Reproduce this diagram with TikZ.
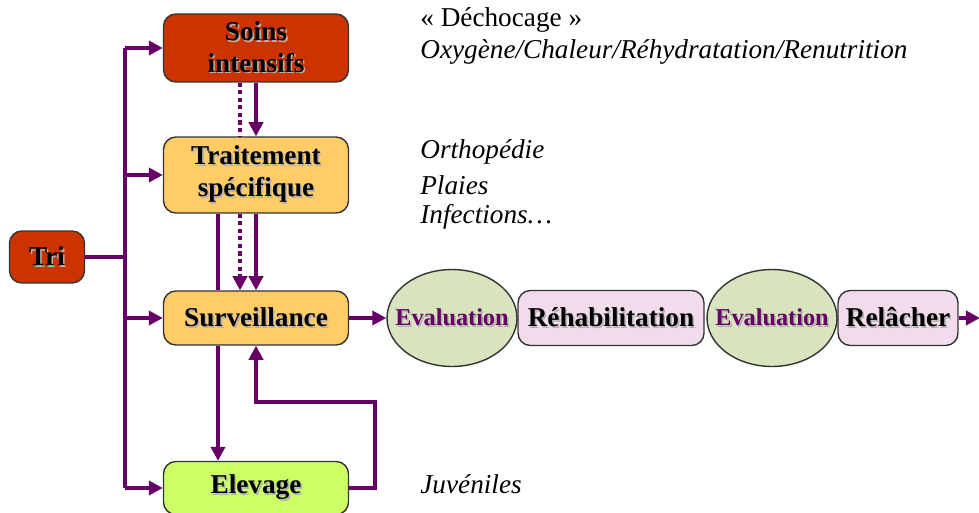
\documentclass[tikz,border=0pt]{standalone}
\usepackage{fontspec}
\setmainfont{Liberation Serif}
\usetikzlibrary{arrows.meta,shapes.geometric}
\definecolor{flowPurple}{RGB}{102,0,102}
\definecolor{careRed}{RGB}{204,51,0}
\definecolor{careOrange}{RGB}{255,204,102}
\definecolor{careLime}{RGB}{204,255,102}
\definecolor{evalGreen}{RGB}{215,228,189}
\definecolor{stepPink}{RGB}{242,220,236}
\newcommand{\ShTxt}[1]{{\rlap{\hspace{0.9pt}\raisebox{-0.9pt}{\color{black!30}#1}}#1}}
\tikzset{
  carebox/.style={rounded corners=7pt,draw=black!80,line width=0.8pt,align=center,
    font=\bfseries\fontsize{15.5}{18}\selectfont,inner sep=2pt},
  evalnode/.style={ellipse,draw=black!80,fill=evalGreen,line width=0.8pt,
    minimum width=2.6cm,minimum height=1.94cm,inner sep=0pt,
    font=\bfseries\fontsize{13.8}{16}\selectfont,text=flowPurple},
  flow/.style={draw=flowPurple,line width=2.3pt,-{Triangle[length=8pt,width=8pt]}},
  flowline/.style={draw=flowPurple,line width=2.3pt},
  notetxt/.style={anchor=west,font=\fontsize{15.5}{18}\selectfont\itshape,inner sep=0pt}
}

\begin{document}
\begin{tikzpicture}[x=0.02cm,y=-0.02cm]
\useasboundingbox (0,0) rectangle (979,513);
% boxes of the care chain
\node[carebox,fill=careRed,minimum width=1.5cm,minimum height=1.04cm] (tri) at (47,257) {\ShTxt{Tri}};
\node[carebox,fill=careRed,minimum width=3.7cm,minimum height=1.36cm] (soins) at (256,48) {\ShTxt{Soins}\\\ShTxt{intensifs}};
\node[carebox,fill=careOrange,minimum width=3.7cm,minimum height=1.52cm] (trait) at (256,175) {\ShTxt{Traitement}\\\ShTxt{spécifique}};
\node[carebox,fill=careOrange,minimum width=3.7cm,minimum height=1.08cm] (surv) at (256,318) {\ShTxt{Surveillance}};
\node[carebox,fill=careLime,minimum width=3.7cm,minimum height=1.06cm] (elev) at (256,488) {\ShTxt{Elevage}};
% release chain
\node[evalnode] (eval1) at (452,318) {\makebox[0pt]{\ShTxt{Evaluation}}};
\node[carebox,fill=stepPink,minimum width=3.72cm,minimum height=1.1cm] (rehab) at (611,318) {\ShTxt{Réhabilitation}};
\node[evalnode] (eval2) at (772,318) {\makebox[0pt]{\ShTxt{Evaluation}}};
\node[carebox,fill=stepPink,minimum width=2.4cm,minimum height=1.1cm] (relache) at (898,318) {\ShTxt{Relâcher}};
\coordinate (bus) at (125,257);
\coordinate (out) at (980,318);
\coordinate (loopA) at (375,488);
\coordinate (loopB) at (375,402);
% notes
\node[notetxt,font=\fontsize{15.5}{18}\selectfont] (noteA) at (420,20) {« Déchocage »};
\node[notetxt] (noteB) at (420,52) {Oxygène/Chaleur/Réhydratation/Renutrition};
\node[notetxt] (noteC) at (420,152) {Orthopédie};
\node[notetxt] (noteD) at (420,185) {Plaies};
\node[notetxt] (noteE) at (420,217) {Infections…};
\node[notetxt] (noteF) at (420,484) {Juvéniles};
% connectors
\draw[flowline] (tri.east) -- (bus);
\draw[flowline] (bus |- soins.west) -- (bus |- elev.west);
\draw[flow] (bus |- soins.west) -- (soins.west);
\draw[flow] (bus |- trait.west) -- (trait.west);
\draw[flow] (bus |- surv.west) -- (surv.west);
\draw[flow] (bus |- elev.west) -- (elev.west);
\draw[flow] (soins.south) -- (trait.north);
\draw[flowline,dotted,line width=2.6pt] ([xshift=-0.32cm]soins.south) -- ([xshift=-0.32cm]trait.north);
\draw[flow] (trait.south) -- (surv.north);
\draw[flow,dotted,line width=2.6pt] ([xshift=-0.32cm]trait.south) -- ([xshift=-0.32cm]surv.north);
\draw[flowline] ([xshift=-0.76cm]trait.south) -- ([xshift=-0.76cm]surv.north);
\draw[flow] ([xshift=-0.76cm]surv.south) -- ([xshift=-0.76cm]elev.north);
\draw[flow] (elev.east) -- (loopA) -- (loopB) -- (loopB -| surv.south) -- (surv.south);
\draw[flow] (surv.east) -- (eval1.west);
\draw[flow] (relache.east) -- (out);
\end{tikzpicture}
\end{document}
